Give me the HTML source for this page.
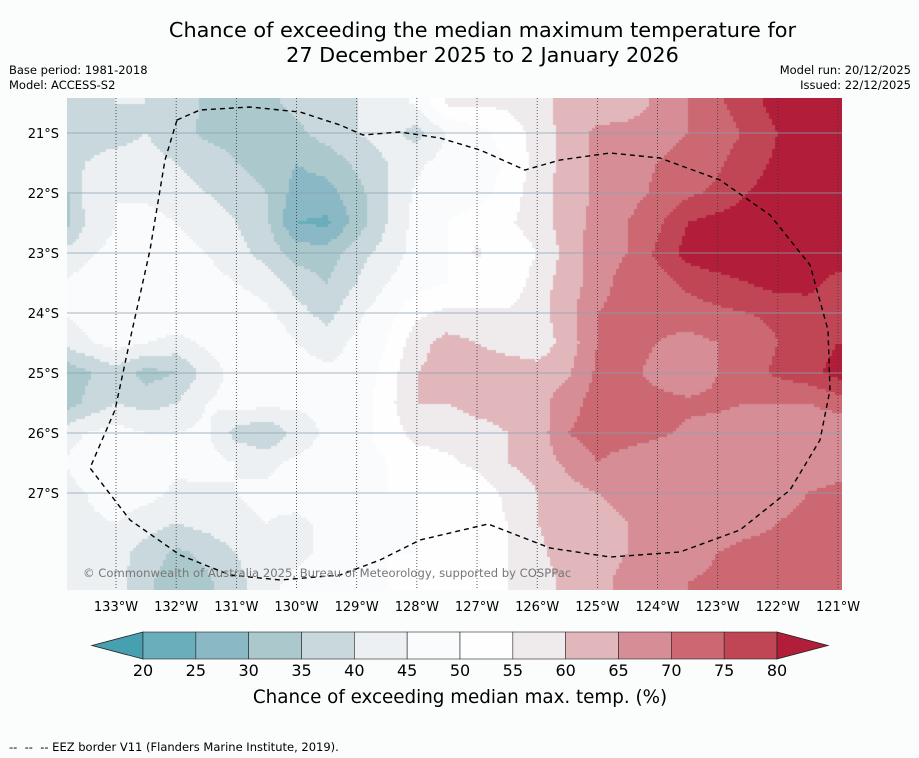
<!DOCTYPE html>
<html><head><meta charset="utf-8"><style>
body{margin:0;background:#fbfdfd;width:919px;height:758px;overflow:hidden;font-family:"DejaVu Sans",sans-serif;position:relative}
.t{position:absolute;white-space:nowrap}
</style></head><body>
<div class="t" style="left:0;width:965px;text-align:center;top:18px;font-size:20.8px;line-height:25px;color:#000">Chance of exceeding the median maximum temperature for<br>27 December 2025 to 2 January 2026</div>
<div class="t" style="left:9px;top:63px;font-size:11.5px;line-height:15px">Base period: 1981-2018<br>Model: ACCESS-S2</div>
<div class="t" style="right:8px;top:63px;font-size:11.5px;line-height:15px;text-align:right">Model run: 20/12/2025<br>Issued: 22/12/2025</div>
<canvas id="cv" width="775" height="492" style="position:absolute;left:67px;top:98px"></canvas>
<svg id="sv" width="919" height="758" style="position:absolute;left:0;top:0"></svg>
<div class="t" style="left:9px;top:740px;font-size:11.5px">--&nbsp; --&nbsp; -- EEZ border V11 (Flanders Marine Institute, 2019).</div>
<script>
const lons=[134,133.5,133,132.5,132,131.5,131,130.5,130,129.5,129,128.5,128,127.5,127,126.5,126,125.5,125,124.5,124,123.5,123,122.5,122,121.5,121,120.5];
const lats=[20,20.5,21,21.5,22,22.5,23,23.5,24,24.5,25,25.5,26,26.5,27,27.5,28,28.5,29];
const r205=[38,38,40,40,38,34,33,34,36,38,40,42,46,56,56,56,58,62,62,62,66,70,74,78,82,83,83,83];
const r21=[38,38,38,40,37,34,33,33,34,37,40,42,38,45,48,52,57,62,66,67,68,70,72,76,80,82,82,82];
const r215=[36,40,42,42,40,38,35,33,30,32,36,40,44,47,48,50,57,62,66,68,70,72,74,78,81,82,83,83];
const r22=[30,42,45,44,42,40,38,35,28,28,33,40,46,48,48,52,58,62,66,68,71,74,76,80,82,83,83,83];
const r225=[30,40,45,47,45,43,40,36,25,24,32,40,47,50,52,54,58,62,67,70,74,80,82,83,84,84,83,83];
const r23=[40,44,47,48,47,45,42,38,33,32,38,42,47,50,56,50,55,62,68,70,76,82,84,84,84,84,83,83];
const r235=[45,47,50,48,47,47,45,43,38,35,40,45,48,50,50,50,58,62,68,72,73,76,78,80,82,82,78,78];
const r24=[44,48,49,50,50,49,48,46,42,38,44,48,54,56,56,56,58,63,70,72,72,73,74,75,76,77,75,75];
const r245=[40,44,47,45,43,46,48,49,45,43,46,50,58,62,60,58,57,62,70,72,70,68,70,72,75,77,80,80];
const r25=[30,34,38,33,35,42,47,48,47,46,46,52,60,62,63,63,62,64,71,72,68,66,70,73,76,78,82,82];
const r255=[30,36,40,38,40,45,47,47,46,46,47,53,60,60,62,62,63,68,72,74,72,71,71,70,70,70,72,72];
const r26=[42,45,47,45,45,46,38,35,42,46,48,52,57,57,58,60,62,70,72,72,71,69,68,67,67,66,66,66];
const r265=[44,48,50,48,46,47,45,44,46,47,48,50,52,54,56,60,62,66,70,68,66,66,66,66,66,66,66,66];
const r27=[42,45,48,47,44,44,45,46,47,48,49,50,50,50,52,56,60,63,65,66,66,66,66,66,66,70,72,72];
const r275=[42,44,45,42,40,42,44,45,44,46,48,49,50,50,52,55,60,62,64,65,66,66,67,68,70,73,74,74];
const r28=[44,45,42,38,34,36,40,44,44,46,48,50,50,50,52,55,59,62,64,65,66,68,70,72,72,72,70,70];
const r285=[44,44,42,36,32,34,38,44,46,48,48,50,50,50,52,55,58,61,64,66,68,70,71,72,72,72,72,72];
const rows=[r205,r205,r21,r215,r22,r225,r23,r235,r24,r245,r25,r255,r26,r265,r27,r275,r28,r285,r285];
const levels=[20,25,30,35,40,45,50,55,60,65,70,75,80];
const colors=["#47a0b0","#6aadbb","#8ab9c5","#abc8cd","#c9d8dd","#ecf0f3","#f9fbfc","#fefefe","#efebec","#e2b7bc","#d68d95","#cb6872","#c14655","#b21e3a"];
const lonTicks=[133,132,131,130,129,128,127,126,125,124,123,122,121];
const latTicks=[21,22,23,24,25,26,27];
const xOf=l=>116+(133-l)*60.17, yOf=a=>133+(a-21)*60;
function col(v){let i=0;while(i<levels.length&&v>=levels[i])i++;return colors[i];}
const cv=document.getElementById('cv'),cx=cv.getContext('2d');
const S=3;
for(let py=0;py<492;py+=S)for(let px=0;px<775;px+=S){
 const X=px+67+S/2,Y=py+98+S/2;
 const lon=133-(X-116)/60.17, lat=21+(Y-133)/60;
 let u=(lons[0]-lon)/0.5, w=(lat-lats[0])/0.5;
 let i0=Math.max(0,Math.min(lons.length-2,Math.floor(u))), j0=Math.max(0,Math.min(lats.length-2,Math.floor(w)));
 let fu=Math.max(0,Math.min(1,u-i0)), fw=Math.max(0,Math.min(1,w-j0));
 const v=rows[j0][i0]*(1-fu)*(1-fw)+rows[j0][i0+1]*fu*(1-fw)+rows[j0+1][i0]*(1-fu)*fw+rows[j0+1][i0+1]*fu*fw;
 cx.fillStyle=col(v);cx.fillRect(px,py,S,S);
}
const sv=document.getElementById('sv'),NS='http://www.w3.org/2000/svg';
const FF='DejaVu Sans, sans-serif';
function mk(t,a,txt){const e=document.createElementNS(NS,t);for(const k in a)e.setAttribute(k,a[k]);if(txt!=null)e.textContent=txt;sv.appendChild(e);return e;}
latTicks.forEach(a=>{
 const g=mk('line',{x1:67,x2:842,y1:yOf(a),y2:yOf(a),stroke:'#8aa0b0','stroke-width':0.7});
 
 
 const t=mk('text',{x:59,y:yOf(a)+5,'font-size':13,'text-anchor':'end','font-family':FF},a+'°S');
 
 
});
lonTicks.forEach(l=>{
 const g=mk('line',{x1:xOf(l),x2:xOf(l),y1:98,y2:590,stroke:'#333','stroke-width':0.8,'stroke-dasharray':'1,2'});
 
 
 const t=mk('text',{x:xOf(l),y:611,'font-size':13,'text-anchor':'middle','font-family':FF},l+'°W');
 
 
});
const eez=mk('polyline',{points:'177,120 200,110 250,107 300,112 340,125 363,135 400,132 440,138 480,150 525,170 560,160 610,153 660,158 720,180 770,215 810,265 828,330 830,390 820,440 790,490 740,530 680,552 610,557 550,548 488,524 420,540 380,560 340,575 280,580 230,575 180,555 130,520 90,468 115,410 130,340 150,250 165,160 177,120',fill:'none',stroke:'#000','stroke-width':1.4,'stroke-dasharray':'5,4'});


const cp=mk('text',{x:83,y:577,'font-size':11.6,fill:'#777','font-family':FF},'© Commonwealth of Australia 2025, Bureau of Meteorology, supported by COSPPac');


const cbX0=143,cbW=634/12;
const lt=mk('polygon',{points:`${cbX0},632 92,645.5 ${cbX0},659`,fill:colors[0],stroke:'#222','stroke-width':0.8});


for(let k=0;k<12;k++){
 const r=mk('rect',{x:cbX0+k*cbW,y:632,width:cbW,height:27,fill:colors[k+1],stroke:'#222','stroke-width':0.6});
 
 
}
const rt=mk('polygon',{points:`777,632 828,645.5 777,659`,fill:colors[13],stroke:'#222','stroke-width':0.8});


levels.forEach((v,k)=>{
 const t=mk('text',{x:cbX0+k*cbW,y:676,'font-size':16,'text-anchor':'middle','font-family':FF},v);
 
 
});
const ct=mk('text',{x:460,y:703,'font-size':18.3,'text-anchor':'middle','font-family':FF},'Chance of exceeding median max. temp. (%)');


</script>
</body></html>
